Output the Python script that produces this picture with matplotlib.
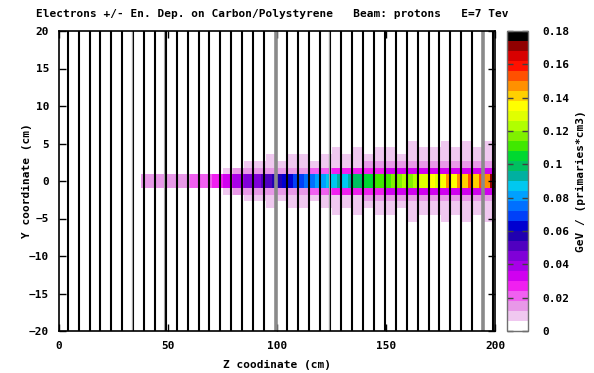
"""
Electron energy deposition map (Z-Y) on carbon/polystyrene, proton beam 7 TeV
"""

import numpy as np
import matplotlib
matplotlib.use("Agg")
import matplotlib.pyplot as plt
from matplotlib.colors import ListedColormap, BoundaryNorm
from matplotlib.font_manager import FontProperties
from matplotlib.ticker import NullLocator, FixedLocator

FONT = dict(family="DejaVu Sans Mono", weight="bold", size=8)

palette = ["#ffffff", "#f0c8f0", "#e898e8", "#f060f0", "#f020f0", "#d000f0",
           "#a800e8", "#8000d8", "#5000c0", "#2000b0", "#0000d0", "#0040f8",
           "#0070ff", "#00a0ff", "#00c8f0", "#00b0a0", "#00c060", "#00d830",
           "#40e800", "#80f000", "#b0ff00", "#e0ff00", "#ffff00", "#ffd000",
           "#ff9000", "#ff5000", "#ff1000", "#d80000", "#900000", "#000000"]
levels = np.linspace(0, 0.18, len(palette) + 1)
cbar_ticks = [0, 0.02, 0.04, 0.06, 0.08, 0.1, 0.12, 0.14, 0.16, 0.18]

# Radial bins (cm), symmetric around the beam axis
y_edges = [-5.4, -4.5, -3.6, -2.7, -1.8, -0.9, 0.9, 1.8, 2.7, 3.6, 4.5, 5.4]

# Core |y|<0.9, 2.5 cm bins in z from 35 to 200
core = [0.000,
        0.014, 0.016, 0.013, 0.016, 0.015, 0.017, 0.015, 0.018, 0.016, 0.019,
        0.021, 0.020, 0.023, 0.025, 0.028, 0.031, 0.034, 0.037, 0.039, 0.042,
        0.044, 0.047, 0.050, 0.053, 0.056, 0.058, 0.062, 0.061, 0.066, 0.070,
        0.073, 0.076, 0.079, 0.081, 0.084, 0.086, 0.091, 0.089, 0.094, 0.097,
        0.100, 0.105, 0.103, 0.109, 0.112, 0.108, 0.116, 0.114, 0.121, 0.118,
        0.124, 0.128, 0.126, 0.134, 0.131, 0.137, 0.145, 0.135, 0.148, 0.138,
        0.150, 0.140, 0.152, 0.145, 0.170]

# Outer rings, 5 cm bins in z from 35 to 200
ring1 = [0, 0, 0, 0, 0, 0, 0, 0.004, 0.009, 0.012, 0.013, 0.014, 0.015, 0.016,
         0.016, 0.018, 0.020, 0.022, 0.024, 0.026, 0.027, 0.028, 0.029, 0.030,
         0.031, 0.031, 0.032, 0.033, 0.033, 0.034, 0.034, 0.035, 0.036]
ring2 = [0, 0, 0, 0, 0, 0, 0, 0, 0, 0.003, 0.007, 0.008, 0.008, 0.009, 0.009,
         0.010, 0.010, 0.011, 0.011, 0.011, 0.011, 0.012, 0.012, 0.012, 0.012,
         0.013, 0.013, 0.013, 0.013, 0.013, 0.014, 0.014, 0.014]
ring3 = [0, 0, 0, 0, 0, 0, 0, 0, 0, 0, 0, 0, 0.007, 0, 0.007, 0.007, 0, 0.007,
         0.008, 0.007, 0.008, 0.008, 0.008, 0.009, 0.008, 0.009, 0.009, 0.009,
         0.010, 0.009, 0.010, 0.010, 0.010]
ring4 = [0, 0, 0, 0, 0, 0, 0, 0, 0, 0, 0, 0, 0, 0, 0, 0, 0, 0, 0.007, 0, 0.007,
         0, 0.007, 0.007, 0, 0.007, 0.007, 0.007, 0.008, 0.007, 0.008, 0.008,
         0.008]
ring5 = [0, 0, 0, 0, 0, 0, 0, 0, 0, 0, 0, 0, 0, 0, 0, 0, 0, 0, 0, 0, 0, 0, 0, 0,
         0, 0.007, 0, 0, 0.007, 0, 0.007, 0, 0.007]

# Detector layers (z position, cm); two of them drawn grey
layer_z = [4, 9, 14, 19, 24, 29, 34, 39, 44, 49, 54, 59, 64, 69, 74, 79, 84,
           89, 94, 99.5, 104.5, 109.5, 114.5, 119.5, 124.5, 129.5, 134.5,
           139.5, 144.5, 149.5, 154.5, 159.5, 164.5, 169.5, 174.5, 179.5,
           184.5, 189.5, 194.5, 199.3]
grey_layers = [99.5, 194.5]
thin_grey_z = [33.3, 48.3, 123.8]

# Build the map
z_edges = np.linspace(35, 200, len(core) + 1)
rings = [np.repeat(r, 2) for r in (ring1, ring2, ring3, ring4, ring5)]
rows = rings[::-1] + [np.array(core)] + rings
grid = np.vstack(rows)

cmap = ListedColormap(palette)
norm = BoundaryNorm(levels, cmap.N)

fig = plt.figure(figsize=(5.94, 3.73), dpi=100)
ax = fig.add_axes([59 / 594, 1 - 331 / 373, 436 / 594, 300 / 373])
cax = fig.add_axes([507 / 594, 1 - 331 / 373, 21 / 594, 300 / 373])

mesh = ax.pcolormesh(z_edges, y_edges, grid, cmap=cmap, norm=norm, zorder=1)

for z in layer_z:
    if z in grey_layers:
        ax.axvline(z, color="#8a8a8a", lw=2.6, zorder=2)
    else:
        ax.axvline(z, color="black", lw=1.5, zorder=2)
for z in thin_grey_z:
    ax.axvline(z, color="#a0a0a0", lw=0.8, zorder=2)

ax.set_xlim(0, 200)
ax.set_ylim(-20, 20)
ax.set_xticks([0, 50, 100, 150, 200])
ax.set_yticks([-20, -15, -10, -5, 0, 5, 10, 15, 20])
ax.tick_params(direction="in", length=5, width=1, top=True, right=True, pad=7)
for lab in ax.get_xticklabels() + ax.get_yticklabels():
    lab.set_fontproperties(FontProperties(**FONT))
for s in ax.spines.values():
    s.set_linewidth(1.2)
ax.set_xlabel("Z coodinate (cm)", fontdict=FONT, va="center")
ax.xaxis.set_label_coords(0.5, -0.113)
ax.set_ylabel("Y coordinate (cm)", fontdict=FONT, va="center")
ax.yaxis.set_label_coords(-0.073, 0.5)

cb = fig.colorbar(mesh, cax=cax, drawedges=False)
cb.outline.set_edgecolor("#707070")
cb.outline.set_linewidth(1)
cax.yaxis.set_major_locator(FixedLocator(cbar_ticks))
cax.yaxis.set_minor_locator(NullLocator())
cax.tick_params(which="major", direction="in", length=4, width=1,
                left=True, right=True, pad=10, color="#404040")
cax.tick_params(which="minor", length=0)
cax.set_yticklabels(["%g" % t for t in cbar_ticks])
for lab in cax.get_yticklabels():
    lab.set_fontproperties(FontProperties(**FONT))
cb.set_label("GeV / (primaries*cm3)", fontdict=FONT, va="center")
cax.yaxis.set_label_coords(74 / 21, 0.5)

fig.text(272 / 594, 1 - 14 / 373,
         "Electrons +/- En. Dep. on Carbon/Polystyrene   Beam: protons   E=7 Tev",
         ha="center", va="center", **FONT)

fig.savefig("out.png", dpi=100)
plt.close(fig)
